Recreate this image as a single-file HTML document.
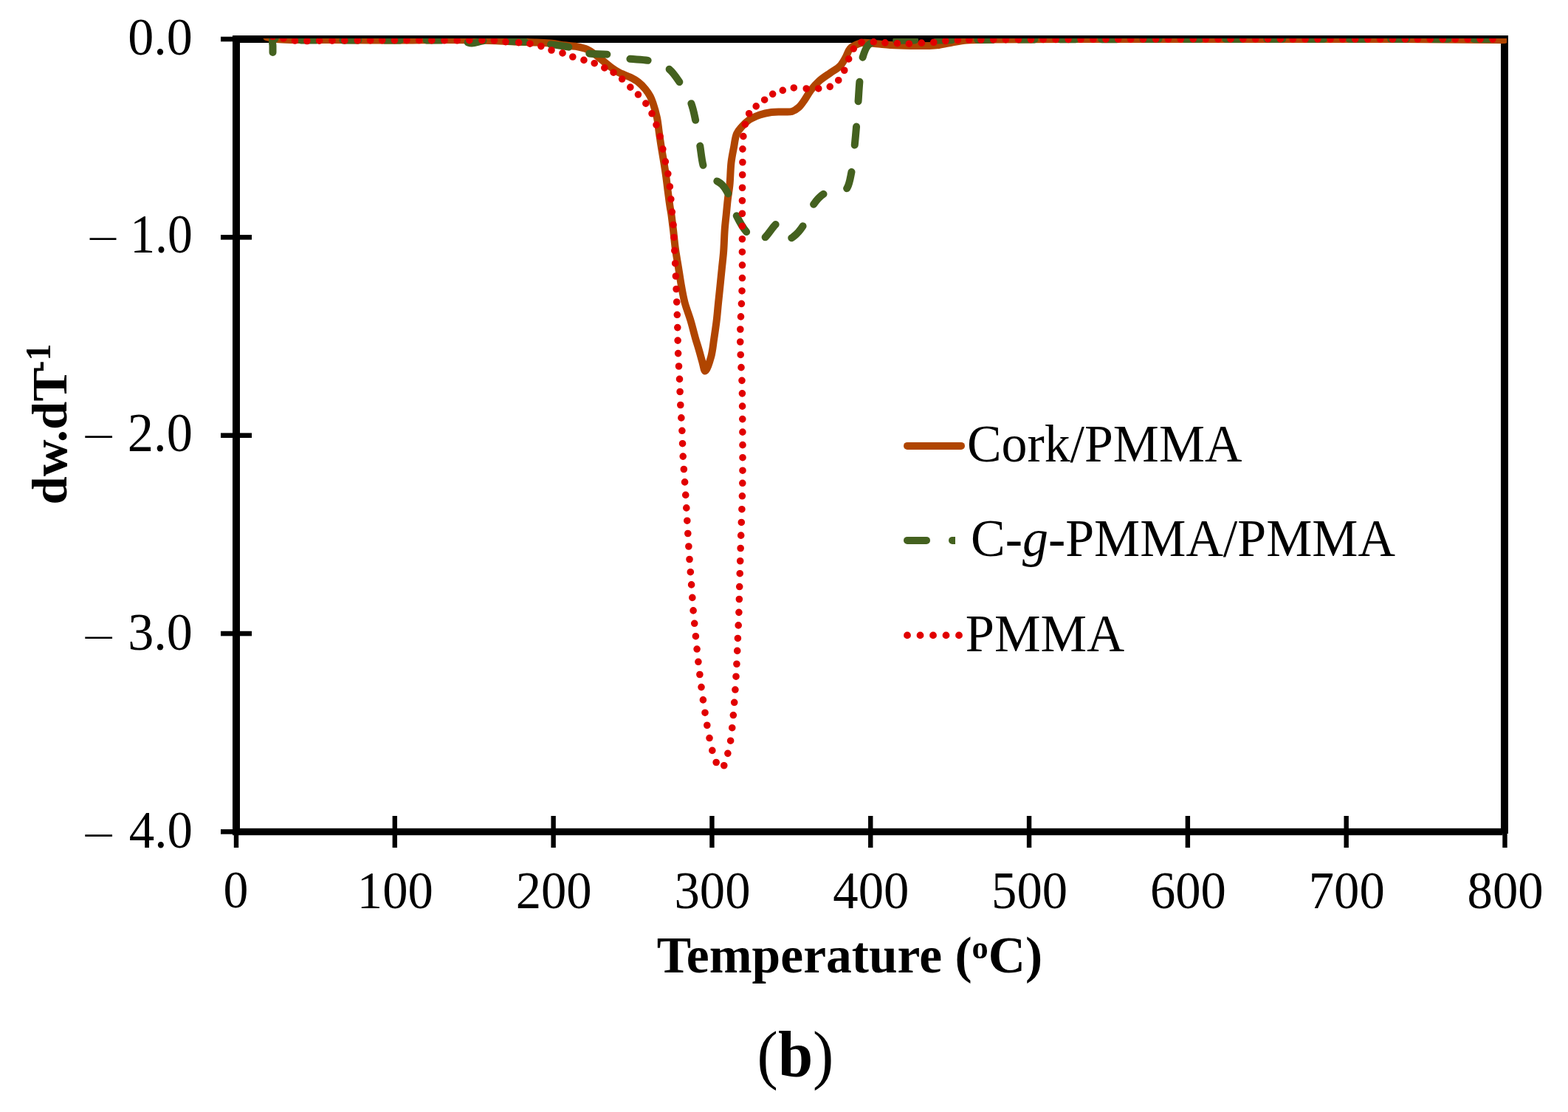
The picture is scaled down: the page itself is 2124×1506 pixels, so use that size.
<!DOCTYPE html><html><head><meta charset="utf-8"><style>html,body{margin:0;padding:0;background:#fff;overflow:hidden}svg{display:block}text{font-family:"Liberation Serif","Times New Roman",serif;fill:#000}</style></head><body>
<svg width="2124" height="1506" viewBox="0 0 2124 1506">
<rect width="2124" height="1506" fill="#fff"/>
<g fill="#000">
<rect x="315" y="48" width="1728" height="10"/>
<rect x="2033" y="48" width="10" height="1081"/>
<rect x="315" y="48" width="10" height="1083"/>
<rect x="315" y="1121.8" width="1720.5" height="9.4"/><rect x="2033" y="1121.8" width="10" height="7.2"/>
<rect x="299" y="49.70" width="42" height="6.6"/>
<rect x="299" y="318.05" width="42" height="6.6"/>
<rect x="299" y="586.40" width="42" height="6.6"/>
<rect x="299" y="854.75" width="42" height="6.6"/>
<rect x="299" y="1123.10" width="42" height="6.6"/>
<rect x="316.80" y="1105" width="6.4" height="43"/>
<rect x="531.61" y="1105" width="6.4" height="43"/>
<rect x="746.42" y="1105" width="6.4" height="43"/>
<rect x="961.24" y="1105" width="6.4" height="43"/>
<rect x="1176.05" y="1105" width="6.4" height="43"/>
<rect x="1390.86" y="1105" width="6.4" height="43"/>
<rect x="1605.67" y="1105" width="6.4" height="43"/>
<rect x="1820.49" y="1105" width="6.4" height="43"/>
<rect x="2035.30" y="1105" width="6.4" height="43"/>
</g>
<defs><clipPath id="pc"><rect x="325" y="52" width="1716" height="1070"/></clipPath></defs>
<g clip-path="url(#pc)" fill="none" stroke-linejoin="round">
<path d="M361.0,50.0 C365.7,51.0 369.6,52.3 375.0,53.0 C382.1,53.9 390.2,53.8 400.0,54.0 C413.8,54.3 433.3,53.9 450.0,54.0 C466.7,54.1 483.3,54.4 500.0,54.5 C516.7,54.6 533.3,54.6 550.0,54.5 C566.7,54.4 583.3,54.0 600.0,54.0 C616.7,54.0 633.3,54.1 650.0,54.5 C666.7,54.9 685.9,56.0 700.0,56.5 C710.3,56.9 718.2,57.1 726.6,57.5 C734.1,57.8 741.2,57.9 747.8,58.6 C753.5,59.2 758.5,60.6 763.8,61.3 C769.1,62.0 774.4,61.9 779.7,62.8 C785.0,63.8 791.0,64.9 795.6,67.0 C799.7,68.8 802.8,71.5 806.3,74.0 C809.9,76.6 813.4,79.7 816.9,82.5 C820.4,85.3 823.9,88.4 827.5,91.0 C831.0,93.5 834.1,95.8 838.1,98.0 C842.8,100.5 849.3,102.4 854.0,104.8 C858.0,106.8 861.4,108.6 864.7,111.2 C868.2,113.9 871.6,117.5 874.3,120.8 C876.8,123.9 879.0,127.1 880.7,130.3 C882.3,133.3 883.2,135.9 884.5,139.6 C886.3,144.9 888.6,152.8 890.0,159.5 C891.4,166.2 891.9,173.1 892.9,179.9 C893.9,186.6 894.8,193.2 895.9,199.8 C897.0,206.5 898.2,213.1 899.3,219.8 C900.4,226.4 901.4,233.1 902.3,239.7 C903.2,246.3 903.9,253.0 904.8,259.6 C905.7,266.2 906.6,273.9 907.5,279.5 C908.1,283.6 908.7,285.8 909.3,290.0 C910.2,296.3 911.3,305.9 912.3,313.9 C913.2,321.9 913.9,329.8 915.0,337.8 C916.1,345.8 917.6,353.7 918.9,361.7 C920.2,369.7 921.3,377.6 922.7,385.6 C924.1,393.6 925.4,401.6 927.5,409.5 C929.6,417.5 932.9,425.4 935.3,433.4 C937.7,441.3 939.8,450.4 941.8,457.3 C943.3,462.7 944.6,466.5 946.1,471.5 C947.8,477.1 949.6,484.0 951.2,489.5 C952.6,494.2 953.6,502.5 955.3,502.6 C957.4,502.7 961.2,490.3 963.1,483.5 C965.2,476.1 965.9,467.6 967.1,459.6 C968.3,451.6 969.5,443.7 970.5,435.7 C971.5,427.7 972.1,419.7 972.9,411.7 C973.7,403.7 974.6,395.8 975.4,387.8 C976.2,379.8 977.0,371.9 977.8,363.9 C978.6,355.9 979.6,348.4 980.2,340.0 C980.9,330.5 981.1,318.8 981.8,309.8 C982.4,302.5 983.1,296.6 983.8,290.0 C984.5,283.4 985.0,276.7 985.8,270.0 C986.6,263.3 987.8,257.4 988.5,250.0 C989.4,241.0 989.4,228.8 990.5,219.8 C991.4,212.4 992.7,206.4 994.0,199.8 C995.2,193.4 995.8,185.9 998.0,181.0 C999.7,177.2 1001.9,174.9 1004.5,172.0 C1007.3,168.7 1010.6,165.2 1014.5,162.5 C1018.8,159.6 1024.3,157.3 1029.4,155.5 C1034.4,153.8 1039.8,152.7 1044.9,152.0 C1049.9,151.4 1055.0,151.7 1059.8,151.5 C1064.3,151.3 1069.0,152.1 1072.8,151.0 C1076.2,150.0 1079.1,148.0 1081.8,145.6 C1084.8,143.0 1087.1,139.3 1089.7,135.6 C1092.7,131.4 1095.4,126.0 1098.7,121.7 C1102.0,117.4 1105.5,113.4 1109.6,109.7 C1114.0,105.7 1119.8,102.2 1124.6,98.8 C1129.0,95.6 1134.0,93.4 1137.5,89.8 C1140.9,86.4 1143.1,81.9 1145.5,77.8 C1147.8,73.9 1148.7,68.9 1151.5,65.9 C1154.1,63.1 1158.1,61.3 1161.4,59.9 C1164.3,58.7 1166.6,58.1 1170.0,57.8 C1174.7,57.4 1181.2,58.7 1187.0,59.2 C1193.2,59.7 1199.0,60.5 1206.0,61.0 C1214.4,61.5 1225.1,61.8 1234.0,62.0 C1242.2,62.1 1250.8,62.2 1257.7,62.0 C1263.0,61.8 1266.8,61.7 1271.8,61.0 C1277.7,60.2 1284.4,58.4 1290.7,57.3 C1297.0,56.2 1302.5,55.1 1309.5,54.5 C1318.4,53.7 1325.8,53.8 1340.0,53.5 C1372.4,52.9 1443.7,53.1 1500.0,53.0 C1563.0,52.9 1633.3,53.0 1700.0,53.0 C1766.7,53.0 1839.5,52.8 1900.0,53.0 C1950.3,53.2 1992.0,53.7 2038.0,54.0" stroke="#B04500" stroke-width="10" stroke-linecap="round"/>
<path d="M369.5,71.0 C369.5,68.0 369.5,65.0 369.5,62.0 C369.5,59.0 367.9,54.4 369.5,53.0 C371.2,51.5 374.9,53.7 380.0,54.0 C393.0,54.7 426.7,54.4 450.0,54.5 C473.3,54.6 495.9,54.5 520.0,54.5 C545.8,54.5 580.9,54.3 600.0,54.5 C610.7,54.6 617.9,54.1 625.0,55.0 C630.4,55.7 634.2,58.4 639.0,58.5 C644.1,58.6 649.0,55.9 655.0,55.3 C662.4,54.6 670.7,55.0 680.0,55.3 C691.8,55.6 708.6,56.6 720.0,57.5 C728.6,58.2 734.4,58.7 742.5,59.7 C752.0,60.9 764.1,62.1 773.3,64.4 C781.2,66.4 786.7,70.3 794.6,71.9 C803.8,73.8 815.8,72.6 825.4,74.0 C834.1,75.2 841.1,77.9 849.8,79.3 C859.5,80.8 871.1,80.1 880.7,82.5 C889.6,84.8 898.6,87.7 905.4,92.8 C911.9,97.6 916.0,104.6 920.8,111.7 C926.2,119.7 932.2,129.6 935.8,138.6 C939.1,146.9 940.4,154.6 942.3,163.5 C944.5,173.6 946.2,185.6 948.0,196.0 C949.6,205.7 950.4,216.4 952.5,224.0 C954.0,229.6 955.0,234.6 958.0,238.0 C960.9,241.3 966.3,242.3 969.8,244.5 C972.8,246.3 975.5,247.5 978.0,250.0 C981.2,253.2 983.9,257.6 986.6,262.9 C990.4,270.3 992.8,282.1 997.0,290.8 C1001.1,299.2 1006.5,309.0 1011.5,314.5 C1014.9,318.3 1018.6,321.0 1022.0,322.5 C1024.7,323.7 1027.6,324.1 1030.0,324.0 C1031.9,323.9 1033.2,323.7 1035.2,322.4 C1039.4,319.6 1046.7,307.2 1051.0,303.7 C1053.3,301.9 1055.2,300.0 1057.0,300.5 C1059.5,301.2 1061.3,307.4 1063.5,311.0 C1065.7,314.7 1067.7,321.8 1070.2,322.5 C1072.0,323.0 1073.9,321.1 1076.0,319.5 C1079.5,316.8 1084.0,311.6 1087.7,306.0 C1092.5,298.7 1095.6,286.2 1100.8,278.6 C1105.2,272.2 1110.2,266.1 1115.7,262.7 C1120.4,259.8 1125.9,259.0 1131.0,258.0 C1135.9,257.0 1142.0,259.6 1145.6,256.7 C1150.4,252.9 1151.6,241.6 1153.5,232.8 C1155.8,222.6 1156.4,209.6 1157.5,198.9 C1158.5,189.4 1159.2,181.4 1160.0,172.0 C1160.9,161.7 1161.6,150.1 1162.4,139.6 C1163.1,129.7 1163.6,119.5 1164.4,110.7 C1165.0,103.2 1165.7,96.0 1166.5,90.0 C1167.1,85.4 1167.2,82.2 1168.5,78.0 C1170.0,72.8 1172.6,65.0 1175.8,61.5 C1178.1,59.0 1180.3,58.1 1184.0,57.0 C1190.1,55.2 1199.9,55.4 1210.0,55.0 C1224.0,54.4 1239.1,54.7 1260.0,54.5 C1294.9,54.2 1349.2,53.7 1400.0,53.5 C1460.7,53.2 1533.3,53.1 1600.0,53.0 C1666.7,52.9 1730.4,53.0 1800.0,53.0 C1875.9,53.0 1958.7,53.0 2038.0,53.0" stroke="#44611F" stroke-width="10" stroke-linecap="round" stroke-dasharray="21.22 35.36 21.22 35.36 21.22 35.36 21.22 35.36 21.22 35.36 21.22 35.36 21.22 35.36 24.18 29.62 23.90 31.98 24.10 31.63 22.11 33.25 23.37 35.40 26.55 30.57 23.07 32.20 25.46 29.43 22.15 35.60 22.20 32.82 19.54 33.43 23.15 36.56 25.13 34.37 26.57 33.48 24.38 33.11 25.26 30.63 19.25 35.00 21.00 35.00 21.00 35.00 21.00 35.00 21.00 35.00 21.00 35.00 21.00 35.00 21.00 35.00 21.00 35.00 21.00 35.00 21.00 35.00 21.00 35.00 21.00 35.00 21.00 121.88"/>
<path d="M369.5,49.5 C374.3,50.3 379.1,51.1 384.0,52.0 C389.1,52.9 392.8,54.4 399.5,55.0 C411.5,56.1 430.3,55.0 450.0,55.0 C477.7,54.9 519.6,54.5 550.0,54.5 C575.4,54.5 598.7,54.8 620.0,54.8 C637.9,54.8 657.7,54.1 669.5,54.8 C676.1,55.2 679.7,56.1 685.0,56.6 C690.4,57.1 696.1,57.2 701.6,57.6 C707.1,58.0 712.6,58.3 717.9,59.2 C723.0,60.0 728.0,61.1 732.9,62.6 C737.7,64.1 742.2,66.5 747.0,68.0 C751.9,69.6 757.1,70.4 762.0,71.9 C766.7,73.4 771.1,75.4 775.8,77.0 C780.7,78.6 785.9,79.9 790.9,81.4 C795.7,82.8 800.6,84.0 805.2,85.7 C809.9,87.5 814.4,89.8 818.8,91.9 C823.0,93.9 827.1,95.7 831.0,98.2 C835.0,100.7 838.9,103.8 842.6,107.0 C846.5,110.4 850.1,114.5 853.8,118.1 C857.4,121.5 861.0,124.4 864.4,128.0 C868.0,131.7 871.7,135.8 874.8,140.1 C877.9,144.4 880.6,148.9 883.0,153.7 C885.4,158.6 887.2,163.8 889.0,169.0 C890.8,174.2 892.5,179.3 894.0,184.7 C895.5,190.2 896.6,196.1 897.8,201.8 C899.0,207.5 900.1,213.2 901.3,218.8 C902.5,224.3 903.8,229.6 904.8,235.2 C905.8,240.9 906.6,246.8 907.3,252.6 C908.0,258.3 908.3,263.9 908.8,269.6 C909.3,275.4 909.8,281.2 910.3,287.0 C910.8,292.7 911.5,297.3 912.0,304.0 C912.7,313.6 913.2,327.6 913.8,339.3 C914.4,350.9 914.9,362.3 915.4,373.9 C915.9,385.5 916.3,397.3 916.7,408.9 C917.1,420.5 917.5,431.9 917.8,443.5 C918.1,455.1 918.1,466.9 918.6,478.5 C919.0,490.1 920.0,501.7 920.5,513.3 C921.0,525.0 921.2,536.7 921.8,548.4 C922.4,560.0 923.3,571.6 923.9,583.2 C924.5,594.8 924.6,606.4 925.2,618.0 C925.8,629.6 926.8,641.2 927.6,652.8 C928.4,664.4 929.1,676.2 929.8,687.8 C930.5,699.4 931.1,710.8 931.8,722.4 C932.5,734.0 933.2,745.8 934.0,757.4 C934.8,768.9 935.8,780.3 936.6,791.8 C937.5,803.4 938.1,815.2 939.1,826.8 C940.1,838.4 941.3,850.0 942.4,861.6 C943.5,873.2 944.6,884.7 945.9,896.2 C947.2,907.7 948.5,919.1 950.0,930.5 C951.5,942.0 953.2,953.6 955.0,965.1 C956.8,976.6 959.1,990.0 961.0,999.4 C962.3,1006.0 963.3,1010.8 964.8,1016.3 C966.3,1021.8 967.7,1028.5 970.1,1032.4 C971.8,1035.2 974.0,1038.1 976.0,1038.5 C977.6,1038.8 979.6,1038.0 981.0,1036.5 C983.4,1033.8 984.4,1026.0 985.8,1020.6 C987.3,1015.0 988.5,1010.2 989.6,1003.4 C991.2,993.9 992.2,980.3 993.3,968.8 C994.3,957.3 995.1,945.8 995.9,934.3 C996.7,922.7 997.3,911.1 997.9,899.5 C998.5,887.9 998.9,876.3 999.4,864.7 C999.9,853.0 1000.5,841.3 1000.9,829.6 C1001.3,818.0 1001.4,806.4 1001.7,794.8 C1002.0,783.2 1002.4,771.6 1002.7,760.0 C1003.0,748.5 1003.3,737.0 1003.7,725.4 C1004.1,713.7 1004.5,701.8 1004.9,690.0 C1005.2,678.3 1005.6,666.7 1005.8,655.0 C1006.0,643.3 1006.0,631.7 1006.0,620.0 C1006.0,608.3 1006.0,596.7 1005.9,585.0 C1005.8,573.3 1005.8,561.6 1005.6,550.0 C1005.5,538.6 1005.4,526.6 1005.0,516.0 C1004.7,506.7 1004.0,499.0 1003.6,490.0 C1003.2,480.4 1002.8,469.0 1002.7,460.0 C1002.6,452.7 1002.8,447.2 1003.0,440.0 C1003.3,431.4 1004.0,421.3 1004.4,411.6 C1004.8,401.3 1005.2,391.2 1005.4,380.0 C1005.6,367.5 1005.4,353.3 1005.4,340.0 C1005.4,326.7 1005.4,313.3 1005.4,300.0 C1005.4,286.7 1005.4,273.3 1005.5,260.0 C1005.6,246.7 1005.7,232.4 1005.9,220.0 C1006.0,209.3 1005.7,199.2 1006.4,190.0 C1007.0,182.1 1007.9,174.4 1009.5,168.0 C1010.8,162.7 1012.0,158.0 1014.5,154.0 C1016.9,150.1 1020.6,147.2 1024.0,144.1 C1027.5,141.0 1031.6,138.2 1035.4,135.4 C1039.1,132.7 1042.4,129.6 1046.4,127.5 C1050.6,125.3 1055.3,123.9 1060.0,122.5 C1064.8,121.1 1069.8,119.4 1075.0,119.0 C1080.4,118.5 1086.3,119.8 1091.9,120.0 C1097.4,120.2 1103.0,120.4 1108.4,120.0 C1113.7,119.6 1119.3,119.4 1123.9,117.5 C1128.3,115.7 1132.3,112.5 1135.5,109.0 C1138.8,105.3 1141.2,100.5 1143.5,95.8 C1145.9,90.9 1147.4,85.3 1149.5,80.3 C1151.5,75.5 1153.1,70.3 1156.0,66.4 C1158.8,62.7 1162.2,59.1 1166.4,57.4 C1171.0,55.6 1177.4,56.7 1182.8,56.8 C1188.1,56.9 1193.1,57.5 1198.4,57.8 C1203.8,58.1 1209.4,58.5 1214.9,58.7 C1220.3,58.9 1225.5,59.3 1230.9,59.2 C1236.5,59.1 1242.2,58.5 1247.8,58.2 C1253.3,57.9 1258.8,57.8 1264.3,57.3 C1269.7,56.8 1274.9,55.9 1280.3,55.4 C1285.8,54.9 1291.4,54.7 1296.8,54.5 C1302.0,54.3 1305.0,54.1 1312.3,54.0 C1329.6,53.7 1364.8,53.6 1400.0,53.5 C1453.1,53.3 1533.3,53.1 1600.0,53.0 C1666.7,52.9 1730.4,53.0 1800.0,53.0 C1875.9,53.0 1958.7,53.0 2038.0,53.0" stroke="#E10000" stroke-width="9.6" stroke-linecap="round" stroke-dasharray="0.00 14.71 0.00 15.80 0.00 16.67 0.00 16.52 0.00 17.33 0.00 16.91 0.00 17.59 0.00 17.16 0.00 15.95 0.00 16.78 0.00 16.56 0.00 16.79 0.00 17.04 0.00 17.18 0.00 17.23 0.00 16.48 0.00 17.07 0.00 16.75 0.00 15.61 0.00 17.66 0.00 15.36 0.00 15.39 0.00 15.10 0.00 15.50 0.00 14.72 0.00 15.73 0.00 14.94 0.00 14.95 0.00 13.74 0.00 14.57 0.00 15.77 0.00 14.51 0.00 15.97 0.00 15.90 0.00 16.44 0.00 16.48 0.00 17.52 0.00 17.36 0.00 16.77 0.00 17.58 0.00 17.07 0.00 17.46 0.00 17.45 0.00 17.00 0.00 17.98 0.00 17.33 0.00 17.31 0.00 17.51 0.00 17.51 0.00 17.31 0.00 17.31 0.00 17.50 0.00 17.51 0.00 17.42 0.00 17.43 0.00 17.12 0.00 18.00 0.00 17.44 0.00 17.42 0.00 17.41 0.00 17.41 0.00 17.43 0.00 17.45 0.00 17.54 0.00 17.53 0.00 17.33 0.00 17.33 0.00 17.54 0.00 17.53 0.00 17.25 0.00 17.25 0.00 17.53 0.00 17.56 0.00 17.49 0.00 17.47 0.00 17.40 0.00 17.38 0.00 17.27 0.00 17.28 0.00 17.47 0.00 17.49 0.00 17.26 0.00 17.56 0.00 17.33 0.00 17.00 0.00 13.75 0.00 17.27 0.00 17.62 0.00 17.58 0.00 17.23 0.00 17.30 0.00 17.30 0.00 17.86 0.00 17.00 0.00 17.84 0.00 16.99 0.00 17.57 0.00 17.57 0.00 17.85 0.00 16.96 0.00 17.85 0.00 16.97 0.00 17.29 0.00 17.33 0.00 17.70 0.00 17.72 0.00 17.96 0.00 17.49 0.00 17.06 0.00 17.50 0.00 17.06 0.00 17.50 0.00 17.53 0.00 17.47 0.00 17.32 0.00 17.47 0.00 17.85 0.00 17.26 0.00 17.11 0.00 17.35 0.00 17.07 0.00 17.49 0.00 17.44 0.00 17.51 0.00 17.39 0.00 17.78 0.00 17.50 0.00 17.50 0.00 17.00 0.00 17.50 0.00 17.55 0.00 17.35 0.00 17.10 0.00 17.81 0.00 17.22 0.00 16.47 0.00 15.68 0.00 13.77 0.00 14.35 0.00 13.56 0.00 14.51 0.00 15.43 0.00 16.95 0.00 16.51 0.00 15.77 0.00 14.49 0.00 15.69 0.00 16.43 0.00 15.39 0.00 14.11 0.00 16.34 0.00 15.63 0.00 16.52 0.00 16.01 0.00 16.93 0.00 16.53 0.00 16.11 0.00 16.53 0.00 15.51 0.00 16.06 0.00 16.90 0.00 16.90 0.00 16.90 0.00 16.90 0.00 16.90 0.00 16.90 0.00 16.90 0.00 16.90 0.00 16.90 0.00 16.90 0.00 16.90 0.00 16.90 0.00 16.90 0.00 16.90 0.00 16.90 0.00 16.90 0.00 16.90 0.00 16.90 0.00 16.90 0.00 16.90 0.00 16.90 0.00 16.90 0.00 16.90 0.00 16.90 0.00 16.90 0.00 16.90 0.00 16.90 0.00 16.90 0.00 16.90 0.00 16.90 0.00 16.90 0.00 16.90 0.00 16.90 0.00 16.90 0.00 16.90 0.00 16.90 0.00 16.90 0.00 16.90 0.00 16.90 0.00 16.90 0.00 16.90 0.00 16.90 0.00 216.90"/>
</g>
<g fill="none" stroke-linecap="round">
<line x1="1229" y1="603.9" x2="1302" y2="603.9" stroke="#B04500" stroke-width="10"/>
<clipPath id="lg"><rect x="1200" y="700" width="94" height="60"/></clipPath>
<line x1="1229" y1="731.9" x2="1300" y2="731.9" stroke="#44611F" stroke-width="10" stroke-dasharray="26 35" clip-path="url(#lg)"/>
<line x1="1229" y1="860.4" x2="1300" y2="860.4" stroke="#E10000" stroke-width="9.8" stroke-dasharray="0 17.5"/>
</g>
<text transform="translate(173.27 74.24) scale(0.9739 0.9851)" font-size="72.0" font-weight="normal">0.0</text>
<text transform="translate(176.15 342.17) scale(0.9408 1.0303)" font-size="72.0" font-weight="normal">1.0</text>
<text transform="translate(172.86 611.39) scale(0.9786 1.0208)" font-size="72.0" font-weight="normal">2.0</text>
<text transform="translate(173.27 879.81) scale(0.9739 0.9878)" font-size="72.0" font-weight="normal">3.0</text>
<text transform="translate(174.84 1147.62) scale(0.9559 0.9843)" font-size="72.0" font-weight="normal">4.0</text>
<text transform="translate(121.97 336.31) scale(0.9737 0.7437)" font-size="72.0" font-weight="normal">&#8211;</text>
<text transform="translate(115.78 604.05) scale(0.9951 0.7500)" font-size="72.0" font-weight="normal">&#8211;</text>
<text transform="translate(115.78 875.05) scale(0.9951 0.6885)" font-size="72.0" font-weight="normal">&#8211;</text>
<text transform="translate(115.78 1144.25) scale(0.9951 0.7500)" font-size="72.0" font-weight="normal">&#8211;</text>
<text transform="translate(302.55 1229.42) scale(0.9413 0.9894)" font-size="72.0" font-weight="normal">0</text>
<text transform="translate(483.87 1230.23) scale(0.9538 1.0101)" font-size="72.0" font-weight="normal">100</text>
<text transform="translate(1309.89 625.00) scale(0.9701 1.0000)" font-size="72.0" font-weight="normal">Cork/PMMA</text>
<text transform="translate(1315.08 752.70) scale(0.9709 1.0000)" font-size="72.0" font-weight="normal">C-<tspan font-style="italic">g</tspan>-PMMA/PMMA</text>
<text transform="translate(1307.84 881.60) scale(0.9780 1.0128)" font-size="72.0" font-weight="normal">PMMA</text>
<text transform="translate(889.83 1316.72) scale(0.9659 0.9785)" font-size="72.0" font-weight="bold">Temperature (<tspan font-size="46" dy="-19.5">o</tspan><tspan dy="19.5">C)</tspan></text>
<text transform="translate(1025.62 1457.56) scale(0.9433 0.9936)" font-size="90.0" font-weight="bold"><tspan font-weight="normal">(</tspan>b<tspan font-weight="normal">)</tspan></text>
<text transform="translate(89.56 683.49) rotate(-90) scale(0.9579 0.9345)" font-size="72.0" font-weight="bold">dw.dT</text>
<text transform="translate(68.14 503.73) rotate(-90) scale(0.9885 1.0457)" font-size="46.0" font-weight="bold">-1</text>
<text transform="translate(698.68 1230.23) scale(0.9538 1.0101)" font-size="72.0" font-weight="normal">200</text>
<text transform="translate(913.49 1230.23) scale(0.9538 1.0101)" font-size="72.0" font-weight="normal">300</text>
<text transform="translate(1128.30 1230.23) scale(0.9538 1.0101)" font-size="72.0" font-weight="normal">400</text>
<text transform="translate(1343.12 1230.23) scale(0.9538 1.0101)" font-size="72.0" font-weight="normal">500</text>
<text transform="translate(1557.93 1230.23) scale(0.9538 1.0101)" font-size="72.0" font-weight="normal">600</text>
<text transform="translate(1772.74 1230.23) scale(0.9538 1.0101)" font-size="72.0" font-weight="normal">700</text>
<text transform="translate(1987.55 1230.23) scale(0.9538 1.0101)" font-size="72.0" font-weight="normal">800</text>
</svg></body></html>
